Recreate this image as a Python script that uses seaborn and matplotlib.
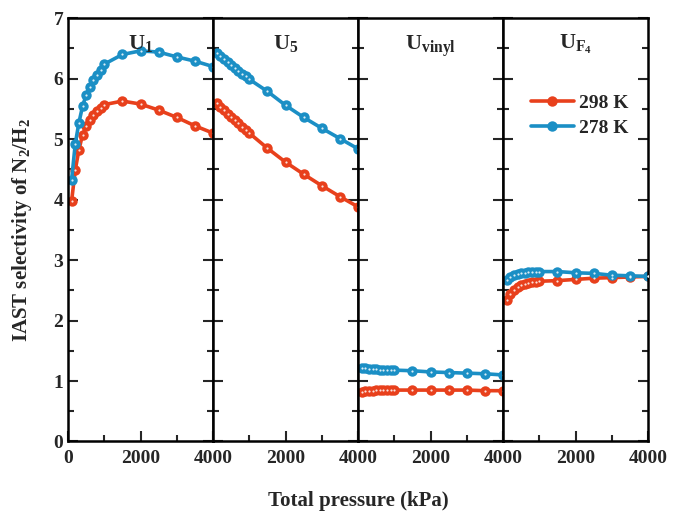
import numpy as np
import pandas as pd
import seaborn as sns
import matplotlib.pyplot as plt

# pressures (kPa) shared by all curves
pressure = [100, 200, 300, 400, 500, 600, 700, 800, 900, 1000,
            1500, 2000, 2500, 3000, 3500, 4000]

# IAST selectivity
u1_298 = [3.98, 4.49, 4.82, 5.07, 5.21, 5.32, 5.40, 5.47, 5.52, 5.57,
          5.63, 5.58, 5.48, 5.36, 5.22, 5.10]
u1_278 = [4.33, 4.92, 5.27, 5.54, 5.73, 5.87, 5.98, 6.06, 6.14, 6.24,
          6.40, 6.46, 6.44, 6.36, 6.29, 6.20]
u5_298 = [5.59, 5.53, 5.48, 5.42, 5.37, 5.31, 5.26, 5.20, 5.15, 5.10,
          4.85, 4.62, 4.42, 4.23, 4.05, 3.88]
u5_278 = [6.42, 6.37, 6.32, 6.27, 6.22, 6.18, 6.13, 6.08, 6.04, 5.99,
          5.79, 5.56, 5.36, 5.18, 5.01, 4.84]
uv_298 = [0.82, 0.83, 0.84, 0.84, 0.85, 0.85, 0.85, 0.85, 0.85, 0.85,
          0.85, 0.85, 0.85, 0.85, 0.84, 0.84]
uv_278 = [1.21, 1.21, 1.20, 1.20, 1.20, 1.19, 1.19, 1.19, 1.18, 1.18,
          1.17, 1.15, 1.14, 1.13, 1.12, 1.10]
uf_298 = [2.34, 2.44, 2.51, 2.55, 2.58, 2.60, 2.62, 2.63, 2.64, 2.65,
          2.66, 2.68, 2.70, 2.71, 2.72, 2.73]
uf_278 = [2.67, 2.72, 2.75, 2.77, 2.78, 2.79, 2.80, 2.80, 2.81, 2.81,
          2.81, 2.79, 2.78, 2.75, 2.74, 2.73]

panel_titles = [r'U$_{\mathrm{1}}$', r'U$_{\mathrm{5}}$',
                r'U$_{\mathrm{vinyl}}$', r'U$_{\mathrm{F}_{\mathrm{4}}}$']
temps = ['298 K', '278 K']
colors = {'298 K': '#E8401C', '278 K': '#1B8FC5'}

series = [(u1_298, u1_278), (u5_298, u5_278), (uv_298, uv_278), (uf_298, uf_278)]

sns.set_theme(style='ticks')
plt.rcParams['font.family'] = ['Liberation Serif', 'DejaVu Serif']
plt.rcParams['font.weight'] = 'bold'
plt.rcParams['mathtext.fontset'] = 'custom'
plt.rcParams['mathtext.rm'] = 'Liberation Serif:bold'
plt.rcParams['mathtext.it'] = 'Liberation Serif:bold'
plt.rcParams['mathtext.bf'] = 'Liberation Serif:bold'

fig, axes = plt.subplots(1, 4, figsize=(6.8, 5.2), dpi=100, sharey=True)
fig.subplots_adjust(left=0.1, right=0.953, bottom=0.151, top=0.965, wspace=0)

for i, ax in enumerate(axes):
    s298, s278 = series[i]
    df = pd.DataFrame({
        'P': pressure * 2,
        'S': list(s298) + list(s278),
        'T': ['298 K'] * len(pressure) + ['278 K'] * len(pressure),
    })
    sns.lineplot(data=df, x='P', y='S', hue='T', hue_order=temps, palette=colors,
                 marker='o', markersize=7.5, markeredgewidth=0, linewidth=2.6,
                 ax=ax, legend=(i == 3))
    # small white highlight on each marker
    sns.scatterplot(data=df, x='P', y='S', color='white', s=2.5, linewidth=0,
                    ax=ax, legend=False, zorder=5, alpha=0.85)

    ax.set_xlim(0, 4000)
    ax.set_ylim(0, 7)
    ax.set_xlabel('')
    ax.set_ylabel('')
    ax.set_xticks([0, 2000, 4000])
    ax.set_xticks([1000, 3000], minor=True)
    if i == 0:
        ax.set_xticklabels(['0', '2000', '4000'])
    else:
        ax.set_xticklabels(['', '2000', '4000'])
    ax.set_yticks(np.arange(0, 8, 1))
    ax.set_yticks(np.arange(0.5, 7, 1), minor=True)
    ax.tick_params(which='both', direction='in', left=True, right=True,
                   top=False, width=1.5, labelsize=14)
    ax.tick_params(which='major', length=7)
    ax.tick_params(which='minor', length=4)
    ax.tick_params(axis='x', pad=6)
    for sp in ax.spines.values():
        sp.set_linewidth(1.8)
        sp.set_color('black')
    for lab in ax.get_xticklabels() + ax.get_yticklabels():
        lab.set_fontweight('bold')
    ax.text(0.5, 0.965, panel_titles[i], transform=ax.transAxes, ha='center',
            va='top', fontsize=16, fontweight='bold')

leg = axes[3].legend(loc='center', bbox_to_anchor=(0.53, 0.77), frameon=False,
                     fontsize=14, handlelength=2.2, handletextpad=0.3,
                     labelspacing=0.4, borderaxespad=0)
for t in leg.get_texts():
    t.set_fontweight('bold')

fig.text(0.527, 0.037, 'Total pressure (kPa)', ha='center', va='center',
         fontsize=15, fontweight='bold')
fig.text(0.033, 0.558, r'IAST selectivity of N$_{\mathrm{2}}$/H$_{\mathrm{2}}$',
         ha='center', va='center', rotation=90, fontsize=15, fontweight='bold')

fig.savefig('out.png', dpi=100)
